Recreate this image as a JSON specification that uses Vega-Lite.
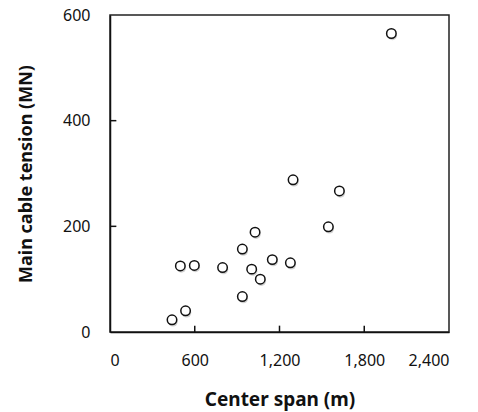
{
  "$schema": "https://vega.github.io/schema/vega-lite/v6.json",
  "autosize": {"type": "none"},
  "padding": {"left": 110, "top": 15, "right": 29, "bottom": 80},
  "width": 339,
  "height": 317,
  "background": "white",
  "config": {
    "font": "Noto Sans",
    "view": {"stroke": "#222", "strokeWidth": 1.5},
    "axis": {
      "grid": false,
      "ticks": false,
      "domainColor": "#111",
      "domainWidth": 1.5,
      "labelFont": "Noto Sans",
      "labelFontSize": 16,
      "labelColor": "#111",
      "titleFont": "Noto Sans",
      "titleFontWeight": "bold",
      "titleColor": "#111"
    }
  },
  "datasets": {
    "bridges": [
      {"span": 1296, "tension": 288},
      {"span": 1027, "tension": 189},
      {"span": 937, "tension": 157},
      {"span": 498, "tension": 125},
      {"span": 597, "tension": 126},
      {"span": 797, "tension": 122},
      {"span": 1003, "tension": 119},
      {"span": 1149, "tension": 137},
      {"span": 1277, "tension": 131},
      {"span": 1064, "tension": 100},
      {"span": 937, "tension": 67},
      {"span": 535, "tension": 40},
      {"span": 439, "tension": 23},
      {"span": 1624, "tension": 267},
      {"span": 1546, "tension": 199},
      {"span": 1992, "tension": 565}
    ],
    "xticks": [{"v": 600}, {"v": 1200}, {"v": 1800}],
    "yticks": [{"v": 200}, {"v": 400}]
  },
  "layer": [
    {
      "data": {"name": "xticks"},
      "mark": {"type": "rule", "strokeWidth": 1.5, "color": "#111"},
      "encoding": {
        "x": {"field": "v", "type": "quantitative"},
        "y": {"datum": 0, "type": "quantitative"},
        "y2": {"datum": 12}
      }
    },
    {
      "data": {"name": "yticks"},
      "mark": {"type": "rule", "strokeWidth": 1.5, "color": "#111"},
      "encoding": {
        "y": {"field": "v", "type": "quantitative"},
        "x": {"datum": 0, "type": "quantitative"},
        "x2": {"datum": 45}
      }
    },
    {
      "data": {"name": "bridges"},
      "mark": {"type": "circle", "size": 90, "color": "#9a9a9a", "opacity": 0.45, "xOffset": 1, "yOffset": 2},
      "encoding": {
        "x": {"field": "span", "type": "quantitative"},
        "y": {"field": "tension", "type": "quantitative"}
      }
    },
    {
      "data": {"name": "bridges"},
      "mark": {"type": "point", "shape": "circle", "size": 90, "filled": false, "fill": "white", "fillOpacity": 1, "stroke": "#111", "strokeWidth": 1.5, "opacity": 1},
      "encoding": {
        "x": {
          "field": "span", "type": "quantitative",
          "scale": {"domain": [0, 2400], "nice": false},
          "axis": {"values": [0, 600, 1200, 1800, 2400], "format": ",d", "labelPadding": 20, "title": "Center span (m)", "titleFontSize": 19, "titlePadding": 22}
        },
        "y": {
          "field": "tension", "type": "quantitative",
          "scale": {"domain": [0, 600], "nice": false},
          "axis": {"values": [0, 200, 400, 600], "labelPadding": 20, "title": "Main cable tension (MN)", "titleFontSize": 18, "titlePadding": 27}
        }
      }
    }
  ]
}
